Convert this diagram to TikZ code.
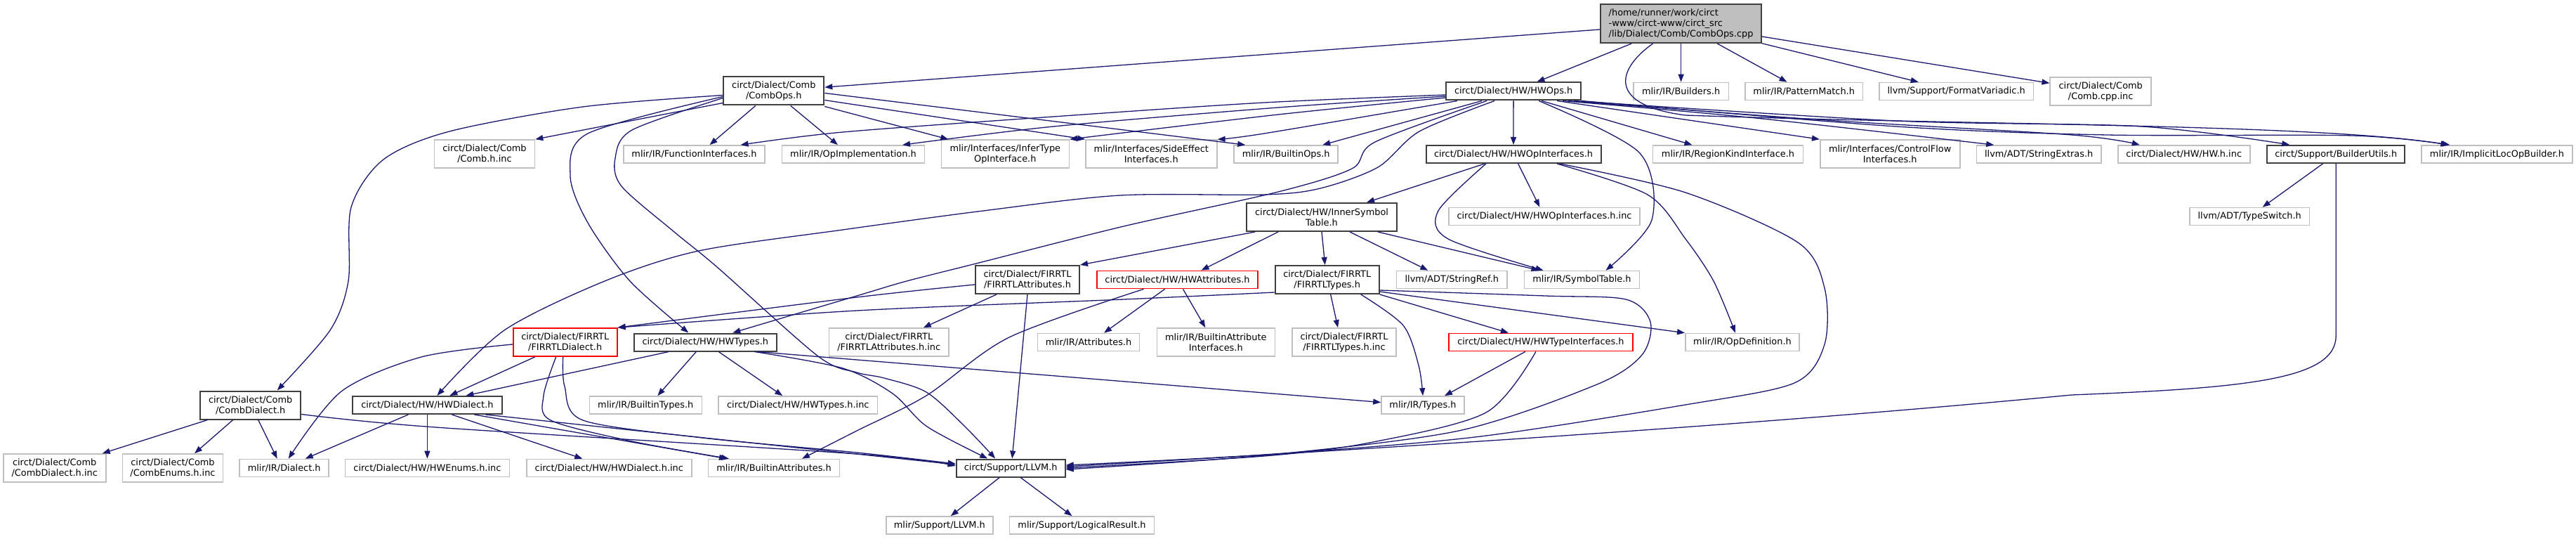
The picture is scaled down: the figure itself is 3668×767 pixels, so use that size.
\documentclass[tikz,border=0pt]{standalone}
\usepackage{fontspec}
\setmainfont{DejaVu Sans}
\usetikzlibrary{arrows.meta}

\definecolor{depblue}{HTML}{191970}
\definecolor{filegray}{HTML}{BFBFBF}
\definecolor{docblack}{HTML}{404040}
\definecolor{truncred}{HTML}{FF0000}

\begin{document}
\begin{tikzpicture}[x=1pt, y=-1pt, font=\fontsize{12.9}{15}\selectfont,
  file/.style={draw=filegray, line width=1.6pt, fill=white, inner sep=0pt, minimum height=25pt, align=center},
  twoline/.style={minimum height=40pt},
  docfile/.style={file, draw=docblack, line width=2pt},
  truncfile/.style={file, draw=truncred, line width=1.8pt},
  dep/.style={draw=depblue, line width=1.3pt, -{Triangle[length=11pt, width=8pt]}}]
  \useasboundingbox (0, 0) rectangle (3668, 767);

  % source file
  \node[docfile, fill=filegray, minimum width=228.8pt, minimum height=55pt, align=left] (root) at (2393.6, 33.5)
    {/home/runner/work/circt\\-www/circt-www/circt\_src\\/lib/Dialect/Comb/CombOps.cpp};

  % included headers
  \node[docfile, twoline, minimum width=143pt] (combops) at (1101.8, 129.5) {circt/Dialect/Comb\\/CombOps.h};
  \node[docfile, minimum width=191.4pt] (hwops) at (2155.1, 130) {circt/Dialect/HW/HWOps.h};
  \node[file, minimum width=135.4pt] (builders) at (2393.6, 130) {mlir/IR/Builders.h};
  \node[file, minimum width=167.3pt] (patmatch) at (2568.7, 130) {mlir/IR/PatternMatch.h};
  \node[file, minimum width=219.4pt] (fmtvar) at (2785.7, 130) {llvm/Support/FormatVariadic.h};
  \node[file, twoline, minimum width=144pt] (combcppinc) at (2991.2, 130) {circt/Dialect/Comb\\/Comb.cpp.inc};

  \node[file, twoline, minimum width=143pt] (combhinc) at (690, 219) {circt/Dialect/Comb\\/Comb.h.inc};
  \node[file, minimum width=201pt] (funcif) at (988.5, 219.5) {mlir/IR/FunctionInterfaces.h};
  \node[file, minimum width=203pt] (opimpl) at (1215, 219.5) {mlir/IR/OpImplementation.h};
  \node[file, twoline, minimum width=182pt] (infertype) at (1431.3, 219) {mlir/Interfaces/InferType\\OpInterface.h};
  \node[file, twoline, minimum width=187pt] (sideeff) at (1639.3, 219) {mlir/Interfaces/SideEffect\\Interfaces.h};
  \node[file, minimum width=148pt] (builtinops) at (1831.2, 219.5) {mlir/IR/BuiltinOps.h};
  \node[docfile, minimum width=249pt] (hwopif) at (2155, 219.5) {circt/Dialect/HW/HWOpInterfaces.h};
  \node[file, minimum width=213.7pt] (regionkind) at (2460.5, 219.5) {mlir/IR/RegionKindInterface.h};
  \node[file, twoline, minimum width=199pt] (ctrlflow) at (2691.2, 219) {mlir/Interfaces/ControlFlow\\Interfaces.h};
  \node[file, minimum width=177.5pt] (strextras) at (2903.2, 219.5) {llvm/ADT/StringExtras.h};
  \node[file, minimum width=188pt] (hwhinc) at (3109.7, 219.5) {circt/Dialect/HW/HW.h.inc};
  \node[docfile, minimum width=196.4pt] (builderutils) at (3326.2, 219.5) {circt/Support/BuilderUtils.h};
  \node[file, minimum width=215.2pt] (implicitloc) at (3555.4, 219.5) {mlir/IR/ImplicitLocOpBuilder.h};

  \node[docfile, twoline, minimum width=213.3pt] (innersym) at (1882, 309) {circt/Dialect/HW/InnerSymbol\\Table.h};
  \node[file, minimum width=272pt] (hwopifinc) at (2199, 308) {circt/Dialect/HW/HWOpInterfaces.h.inc};
  \node[file, minimum width=170.4pt] (typeswitch) at (3203.2, 308) {llvm/ADT/TypeSwitch.h};

  \node[docfile, twoline, minimum width=148pt] (firrtlattrs) at (1463, 398) {circt/Dialect/FIRRTL\\/FIRRTLAttributes.h};
  \node[truncfile, minimum width=229.3pt] (hwattrs) at (1676.5, 398) {circt/Dialect/HW/HWAttributes.h};
  \node[docfile, twoline, minimum width=148pt] (firrtltypes) at (1889.7, 398) {circt/Dialect/FIRRTL\\/FIRRTLTypes.h};
  \node[file, minimum width=157.4pt] (strref) at (2067.3, 398) {llvm/ADT/StringRef.h};
  \node[file, minimum width=164pt] (symtable) at (2252.5, 398) {mlir/IR/SymbolTable.h};

  \node[truncfile, twoline, minimum width=148pt] (firrtldialect) at (804.7, 487) {circt/Dialect/FIRRTL\\/FIRRTLDialect.h};
  \node[docfile, minimum width=202.8pt] (hwtypes) at (1004.3, 487) {circt/Dialect/HW/HWTypes.h};
  \node[file, twoline, minimum width=170.5pt] (firrtlattrsinc) at (1265.8, 487) {circt/Dialect/FIRRTL\\/FIRRTLAttributes.h.inc};
  \node[file, minimum width=144.7pt] (attributes) at (1550, 487) {mlir/IR/Attributes.h};
  \node[file, twoline, minimum width=168pt] (builtinattrif) at (1731.3, 487) {mlir/IR/BuiltinAttribute\\Interfaces.h};
  \node[file, twoline, minimum width=148pt] (firrtltypesinc) at (1914, 487) {circt/Dialect/FIRRTL\\/FIRRTLTypes.h.inc};
  \node[truncfile, minimum width=261.7pt] (hwtypeif) at (2193.9, 487) {circt/Dialect/HW/HWTypeInterfaces.h};
  \node[file, minimum width=162.3pt] (opdef) at (2481, 487) {mlir/IR/OpDefinition.h};

  \node[docfile, twoline, minimum width=143pt] (combdialect) at (356.7, 576.5) {circt/Dialect/Comb\\/CombDialect.h};
  \node[docfile, minimum width=212.5pt] (hwdialect) at (608.4, 576.5) {circt/Dialect/HW/HWDialect.h};
  \node[file, minimum width=160pt] (builtintypes) at (919.3, 576.5) {mlir/IR/BuiltinTypes.h};
  \node[file, minimum width=226.3pt] (hwtypesinc) at (1136.3, 576.5) {circt/Dialect/HW/HWTypes.h.inc};
  \node[file, minimum width=118pt] (types) at (2026, 576.5) {mlir/IR/Types.h};

  \node[file, twoline, minimum width=146pt] (combdialectinc) at (77.7, 666) {circt/Dialect/Comb\\/CombDialect.h.inc};
  \node[file, twoline, minimum width=143pt] (combenumsinc) at (246, 666) {circt/Dialect/Comb\\/CombEnums.h.inc};
  \node[file, minimum width=127pt] (dialect) at (404.7, 666) {mlir/IR/Dialect.h};
  \node[file, minimum width=233.8pt] (hwenumsinc) at (608.4, 666) {circt/Dialect/HW/HWEnums.h.inc};
  \node[file, minimum width=234.8pt] (hwdialectinc) at (867.3, 666) {circt/Dialect/HW/HWDialect.h.inc};
  \node[file, minimum width=187pt] (builtinattrs) at (1102, 666) {mlir/IR/BuiltinAttributes.h};
  \node[docfile, minimum width=155pt] (llvm) at (1439.2, 666) {circt/Support/LLVM.h};

  \node[file, minimum width=152pt] (mlirllvm) at (1337.8, 747.5) {mlir/Support/LLVM.h};
  \node[file, minimum width=205.7pt] (logicres) at (1540.5, 747.5) {mlir/Support/LogicalResult.h};

  % CombOps.cpp
  \draw[dep] (root) -- (combops);
  \draw[dep] (root) -- (hwops);
  \draw[dep] (root) -- (builders);
  \draw[dep] (root) -- (patmatch);
  \draw[dep] (root) -- (fmtvar);
  \draw[dep] (root) -- (combcppinc);
  \draw[dep] ([xshift=-40pt]root.south) .. controls (2300, 100) and (2290, 150) .. (2400, 164) .. controls (2800, 178) and (3300, 176) .. ([xshift=-69pt]implicitloc.north);

  % CombOps.h
  \draw[dep] plot[smooth] coordinates {([yshift=-6pt]combops.west) (830, 152) (640, 187) (546, 227) (500, 295) (496, 400) (470, 470) ([xshift=38pt]combdialect.north)};
  \draw[dep] plot[smooth] coordinates {([yshift=-8pt]combops.west) (837, 190) (812, 250) (837, 317) (897, 400) ([xshift=-24pt]hwtypes.north)};
  \draw[dep] plot[smooth] coordinates {([yshift=-10pt]combops.west) (900, 185) (876, 225) (885, 265) (960, 330) (1021, 380) (1165, 507) (1220, 530) (1259, 538) (1319, 558) (1372, 605) ([xshift=-22pt]llvm.north)};
  \draw[dep] ([yshift=-17pt]combops.west) -- (combhinc.north east);
  \draw[dep] ([xshift=-26pt]combops.south) -- ([xshift=22pt]funcif.north);
  \draw[dep] ([xshift=24pt]combops.south) -- ([xshift=-22pt]opimpl.north);
  \draw[dep] ([yshift=-3pt]combops.east) -- ([xshift=-58pt]builtinops.north);
  \draw[dep] ([yshift=-13pt]combops.east) -- (sideeff.north west);
  \draw[dep] ([yshift=-22pt]combops.east) -- ([xshift=-81pt]infertype.north);

  % HWOps.h
  \draw[dep] plot[smooth] coordinates {([yshift=-5pt]hwops.west) (1800, 146) (1500, 166) (1200, 188) ([xshift=66pt]funcif.north)};
  \draw[dep] plot[smooth] coordinates {([yshift=-7pt]hwops.west) (1820, 153) (1500, 180) ([xshift=70pt]opimpl.north)};
  \draw[dep] plot[smooth] coordinates {([yshift=-9pt]hwops.west) (1820, 163) (infertype.north east)};
  \draw[dep] plot[smooth] coordinates {([xshift=-80pt]hwops.south) (1800, 190) (sideeff.north east)};
  \draw[dep] ([xshift=-45pt]hwops.south) -- ([xshift=52pt]builtinops.north);
  \draw[dep] (hwops) -- (hwopif);
  \draw[dep] plot[smooth] coordinates {([xshift=-27pt]hwops.south) (2021, 187) (1962, 238) (1880, 268) (1800, 277) (1595, 278) (1400, 300) (1200, 327) (995, 357) (861, 400) (718, 470) ([xshift=14pt]hwdialect.north)};
  \draw[dep] plot[smooth] coordinates {([xshift=-38pt]hwops.south) (1958, 202) (1925, 240) (1820, 273) (1600, 322) (1386, 376) (1291, 400) (1220, 421) ([xshift=39pt]hwtypes.north)};
  \draw[dep] ([xshift=40pt]hwops.south) -- ([xshift=-51pt]regionkind.north);
  \draw[dep] ([xshift=62pt]hwops.south) -- (ctrlflow.north west);
  \draw[dep] plot[smooth] coordinates {([xshift=70pt]hwops.south) (2500, 168) ([xshift=-64pt]strextras.north)};
  \draw[dep] plot[smooth] coordinates {([xshift=78pt]hwops.south) (2600, 171) (2950, 192) ([xshift=-63pt]hwhinc.north)};
  \draw[dep] plot[smooth] coordinates {([xshift=86pt]hwops.south) (2700, 172) (3050, 180) ([xshift=-66pt]builderutils.north)};
  \draw[dep] plot[smooth] coordinates {(hwops.south east) (2700, 180) (3000, 192) (3350, 193) ([xshift=-67pt]implicitloc.north)};
  \draw[dep] plot[smooth] coordinates {([xshift=36pt]hwops.south) (2334, 217) (2352, 313) ([xshift=34pt]symtable.north)};

  % HWOpInterfaces.h
  \draw[dep] (hwopif) -- (innersym);
  \draw[dep] (hwopif) -- (hwopifinc);
  \draw[dep] plot[smooth] coordinates {([xshift=-39pt]hwopif.south) (2048, 300) (2062, 340) ([xshift=-55pt]symtable.north)};
  \draw[dep] plot[smooth] coordinates {([xshift=62pt]hwopif.south) (2346, 277) (2400, 340) (2440, 400) ([xshift=-10pt]opdef.north)};
  \draw[dep] plot[smooth] coordinates {([xshift=66pt]hwopif.south) (2400, 274) (2560, 345) (2598, 410) (2598, 490) (2555, 545) (2400, 576) (2100, 622) (1800, 647) ([yshift=4pt]llvm.east)};

  % BuilderUtils.h
  \draw[dep] (builderutils) -- (typeswitch);
  \draw[dep] (builderutils.south) -- (3326.2, 478) .. controls (3326.2, 540) and (3200, 552) .. (2950, 562) .. controls (2500, 605) and (2000, 636) .. ([yshift=2pt]llvm.east);

  % InnerSymbolTable.h
  \draw[dep] ([xshift=-95pt]innersym.south) -- (firrtlattrs.north east);
  \draw[dep] ([xshift=-62pt]innersym.south) -- ([xshift=34pt]hwattrs.north);
  \draw[dep] (innersym.south) -- ([xshift=-3pt]firrtltypes.north);
  \draw[dep] ([xshift=40pt]innersym.south) -- ([xshift=-34pt]strref.north);
  \draw[dep] ([xshift=80pt]innersym.south) -- ([xshift=-61pt]symtable.north);

  % FIRRTLAttributes.h
  \draw[dep] plot[smooth] coordinates {([yshift=-7pt]firrtlattrs.west) (1220, 423) (firrtldialect.north east)};
  \draw[dep] ([xshift=-44pt]firrtlattrs.south) -- ([xshift=49pt]firrtlattrsinc.north);
  \draw[dep] (firrtlattrs.south) -- ([xshift=2pt]llvm.north);

  % HWAttributes.h
  \draw[dep] ([xshift=-18pt]hwattrs.south) -- ([xshift=22pt]attributes.north);
  \draw[dep] ([xshift=8pt]hwattrs.south) -- ([xshift=-15pt]builtinattrif.north);
  \draw[dep] plot[smooth] coordinates {([xshift=-48pt]hwattrs.south) (1437, 480) (1319, 563) (1220, 613) ([xshift=40pt]builtinattrs.north)};

  % FIRRTLTypes.h
  \draw[dep] plot[smooth] coordinates {([yshift=-18pt]firrtltypes.west) (1600, 426) (1220, 442) (firrtldialect.north east)};
  \draw[dep] ([xshift=5pt]firrtltypes.south) -- ([xshift=-9pt]firrtltypesinc.north);
  \draw[dep] plot[smooth] coordinates {([xshift=48pt]firrtltypes.south) (1998, 463) (2020, 520) (types.north)};
  \draw[dep] (firrtltypes.south east) -- ([xshift=-46pt]hwtypeif.north);
  \draw[dep] ([yshift=-17pt]firrtltypes.east) -- (opdef.north west);
  \draw[dep] plot[smooth] coordinates {([yshift=-15pt]firrtltypes.east) (2200, 421) (2315, 426) (2350, 458) (2338, 505) (2274, 547) (2077, 613) (1800, 648) ([yshift=-2pt]llvm.east)};

  % HWTypeInterfaces.h
  \draw[dep] ([xshift=-22pt]hwtypeif.south) -- ([xshift=31pt]types.north);
  \draw[dep] plot[smooth] coordinates {([xshift=-7pt]hwtypeif.south) (2116, 587) (1950, 630) (1800, 649) (llvm.east)};

  % FIRRTLDialect.h
  \draw[dep] ([xshift=-43pt]firrtldialect.south) -- ([xshift=32pt]hwdialect.north);
  \draw[dep] plot[smooth] coordinates {([yshift=-3pt]firrtldialect.west) (600, 508) (486, 557) ([xshift=6pt]dialect.north)};
  \draw[dep] plot[smooth] coordinates {([xshift=-13pt]firrtldialect.south) (774, 563) (784, 598) (900, 628) ([xshift=-64pt]builtinattrs.north)};
  \draw[dep] plot[smooth] coordinates {([xshift=-3pt]firrtldialect.south) (804, 550) (830, 598) (1000, 623) (1220, 644) ([yshift=6pt]llvm.west)};

  % HWTypes.h
  \draw[dep] ([xshift=-52pt]hwtypes.south) -- ([xshift=55pt]hwdialect.north);
  \draw[dep] ([xshift=-13pt]hwtypes.south) -- ([xshift=17pt]builtintypes.north);
  \draw[dep] ([xshift=19pt]hwtypes.south) -- ([xshift=-22pt]hwtypesinc.north);
  \draw[dep] ([xshift=74pt]hwtypes.south) -- ([yshift=4pt]types.west);
  \draw[dep] plot[smooth] coordinates {([xshift=70pt]hwtypes.south) (1200, 524) (1271, 560) (1320, 607) ([xshift=-33pt]llvm.north)};

  % CombDialect.h
  \draw[dep] ([xshift=-61pt]combdialect.south) -- ([xshift=68pt]combdialectinc.north);
  \draw[dep] ([xshift=-25pt]combdialect.south) -- ([xshift=31pt]combenumsinc.north);
  \draw[dep] ([xshift=11pt]combdialect.south) -- ([xshift=-10pt]dialect.north);
  \draw[dep] plot[smooth] coordinates {([yshift=-13pt]combdialect.east) (620, 608) (1220, 646) ([yshift=3pt]llvm.west)};

  % HWDialect.h
  \draw[dep] (hwdialect) -- (hwenumsinc);
  \draw[dep] ([xshift=35pt]hwdialect.south) -- ([xshift=-38pt]hwdialectinc.north);
  \draw[dep] ([xshift=67pt]hwdialect.south) -- ([xshift=-67pt]builtinattrs.north);
  \draw[dep] ([xshift=83pt]hwdialect.south) -- ([yshift=5pt]llvm.west);
  \draw[dep] ([xshift=-27pt]hwdialect.south) -- ([xshift=30pt]dialect.north);

  % LLVM.h
  \draw[dep] ([xshift=-16pt]llvm.south) -- ([xshift=16pt]mlirllvm.north);
  \draw[dep] ([xshift=14pt]llvm.south) -- ([xshift=-14pt]logicres.north);
\end{tikzpicture}
\end{document}
